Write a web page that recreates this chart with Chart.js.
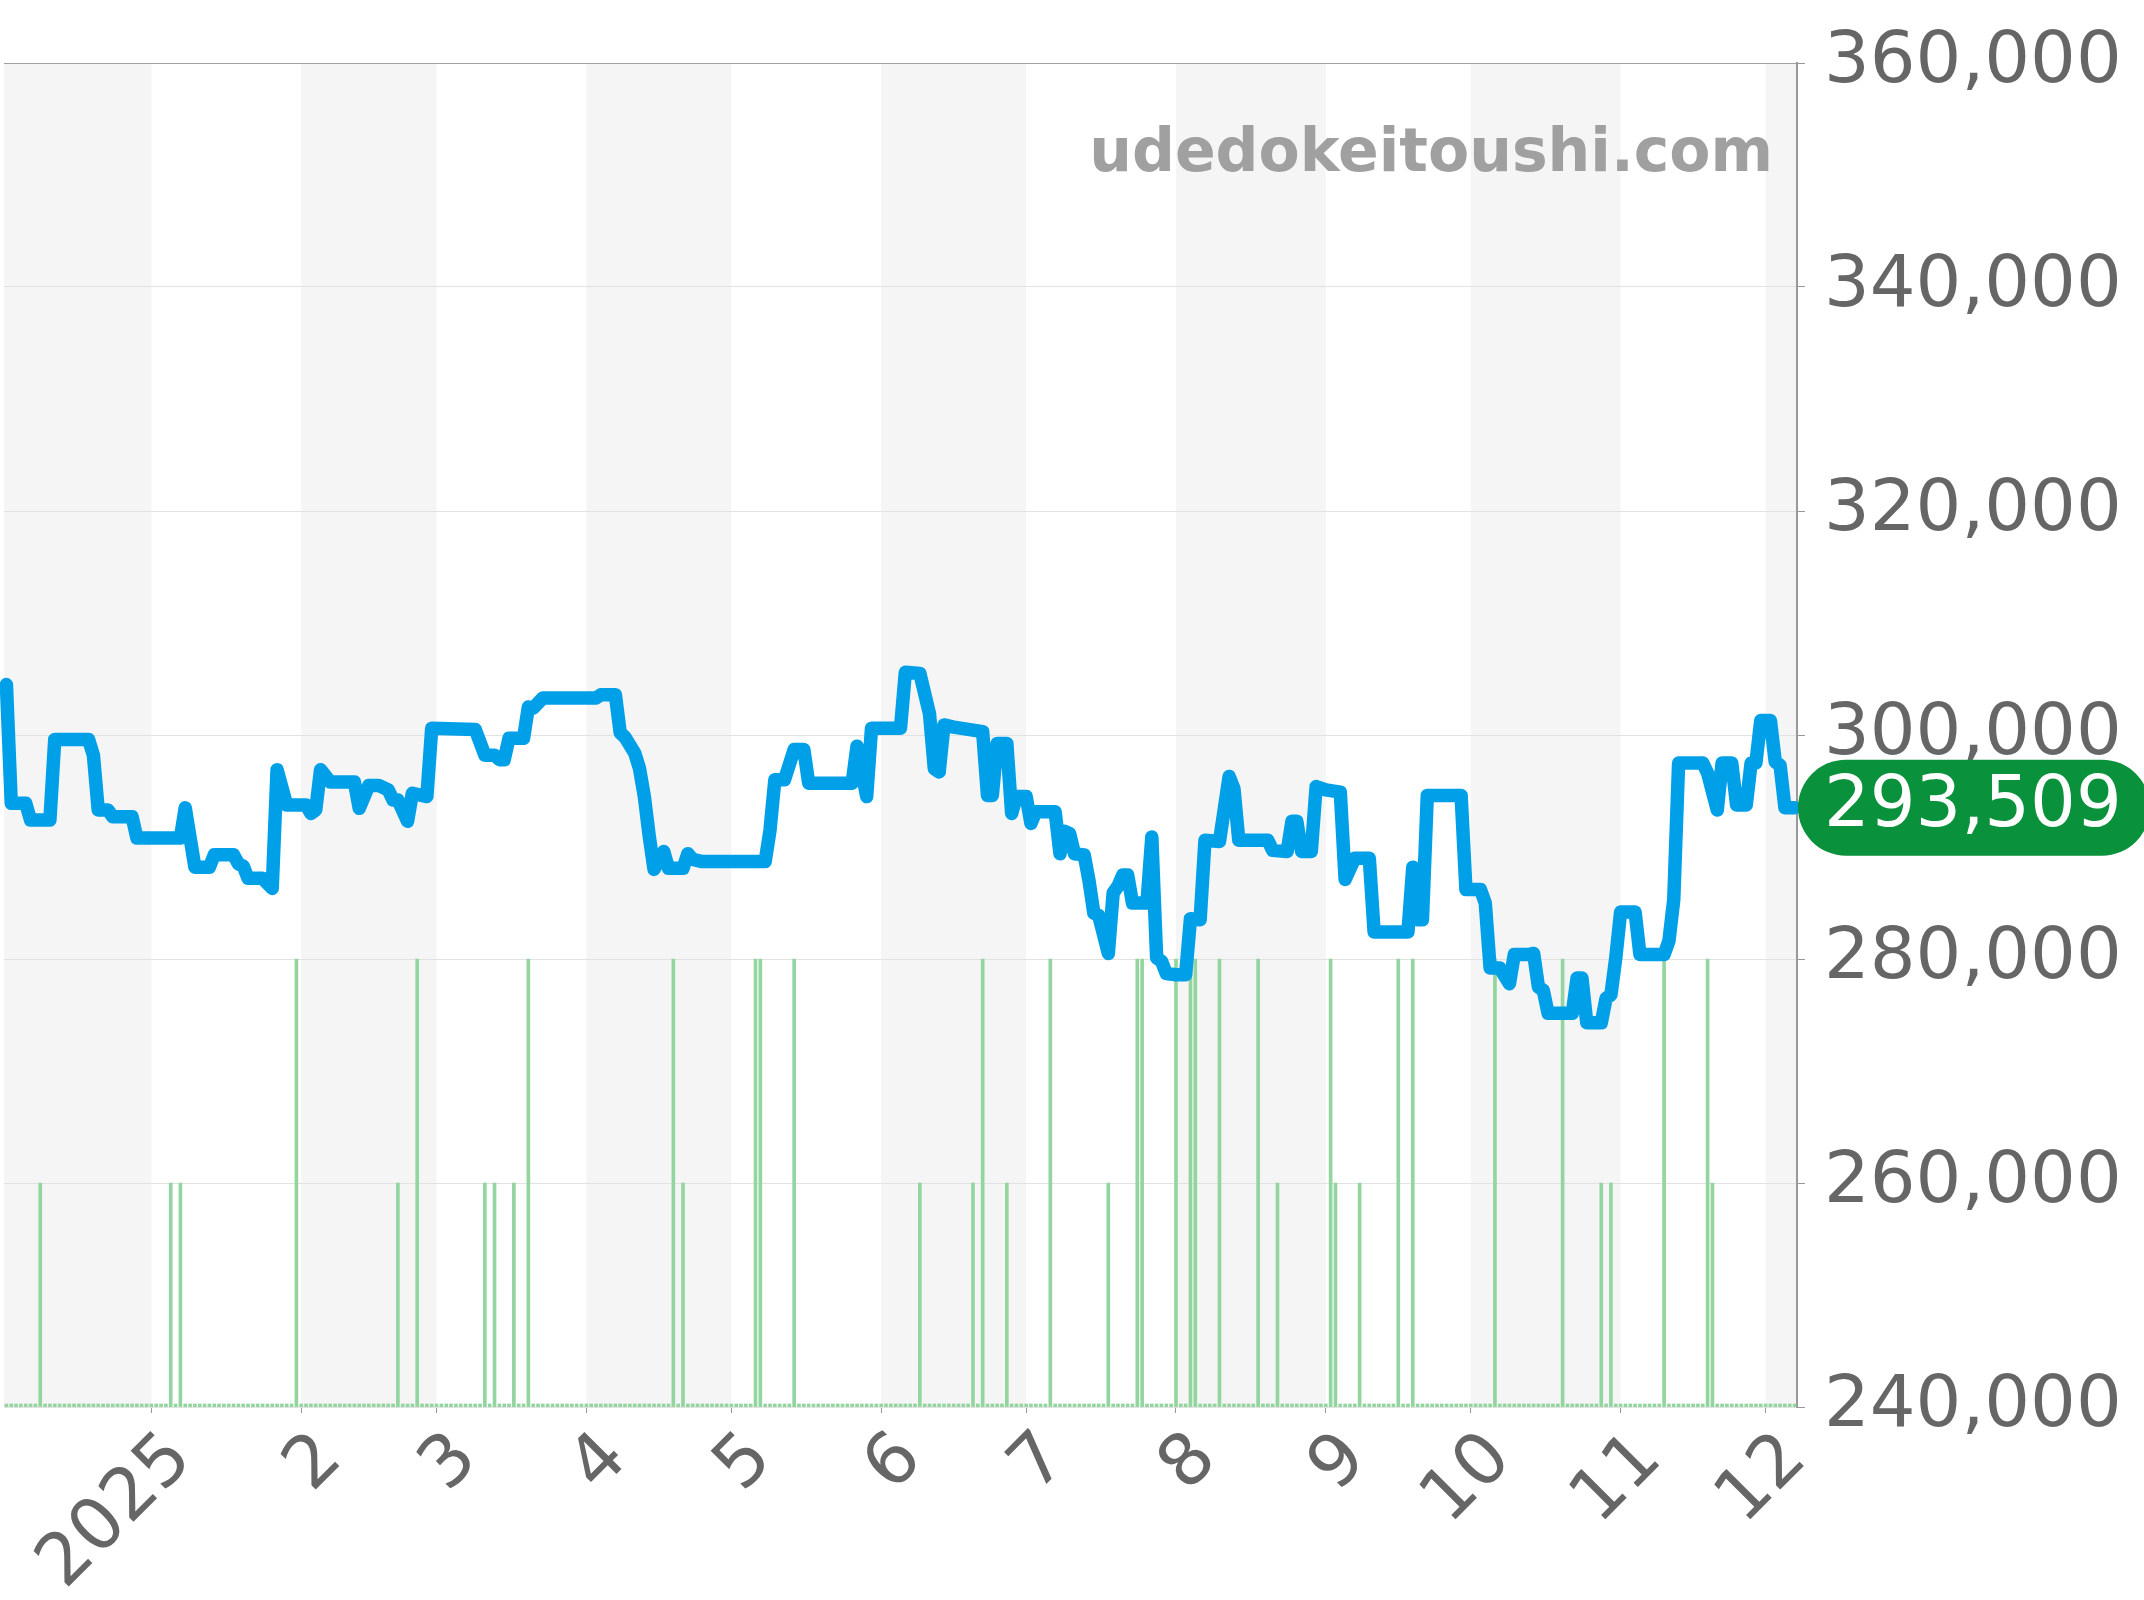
<!DOCTYPE html>
<html>
<head>
<meta charset="utf-8">
<script src="https://cdn.jsdelivr.net/npm/chart.js@4.4.1/dist/chart.umd.min.js"></script>
<style>
html,body{margin:0;padding:0;background:#fff;}
canvas{display:block;}
</style>
</head>
<body>
<canvas id="c" width="2144" height="1600"></canvas>
<script>
// ---------- DATA ----------
const rangeStart = "2024-12-02";
const rangeEnd = "2025-12-07";

const priceDates = [
"2024-12-02","2024-12-03","2024-12-06","2024-12-07","2024-12-11","2024-12-12","2024-12-19","2024-12-20","2024-12-21","2024-12-23","2024-12-24","2024-12-28","2024-12-29",
"2025-01-07","2025-01-08","2025-01-10","2025-01-13","2025-01-14","2025-01-18","2025-01-19","2025-01-20","2025-01-21","2025-01-24","2025-01-26","2025-01-27","2025-01-29",
"2025-02-02","2025-02-03","2025-02-04","2025-02-05","2025-02-07","2025-02-12","2025-02-13","2025-02-15","2025-02-17","2025-02-19","2025-02-20","2025-02-21","2025-02-23","2025-02-24","2025-02-27","2025-02-28",
"2025-03-09","2025-03-11","2025-03-13","2025-03-14","2025-03-15","2025-03-16","2025-03-19","2025-03-20","2025-03-21","2025-03-23",
"2025-04-03","2025-04-04","2025-04-07","2025-04-08","2025-04-09","2025-04-11","2025-04-12","2025-04-13","2025-04-14","2025-04-15","2025-04-17","2025-04-18","2025-04-21","2025-04-22","2025-04-23","2025-04-25",
"2025-05-08","2025-05-09","2025-05-10","2025-05-12","2025-05-14","2025-05-16","2025-05-17","2025-05-26","2025-05-27","2025-05-29","2025-05-30",
"2025-06-05","2025-06-06","2025-06-09","2025-06-11","2025-06-12","2025-06-13","2025-06-14","2025-06-16","2025-06-19","2025-06-22","2025-06-23","2025-06-24","2025-06-25","2025-06-27","2025-06-28","2025-06-29",
"2025-07-01","2025-07-02","2025-07-03","2025-07-07","2025-07-08","2025-07-09","2025-07-10","2025-07-11","2025-07-13","2025-07-14","2025-07-15","2025-07-16","2025-07-18","2025-07-19","2025-07-20","2025-07-21","2025-07-22","2025-07-23","2025-07-26","2025-07-27","2025-07-28","2025-07-29","2025-07-30",
"2025-08-01","2025-08-03","2025-08-04","2025-08-06","2025-08-07","2025-08-10","2025-08-12","2025-08-13","2025-08-14","2025-08-20","2025-08-21","2025-08-24","2025-08-25","2025-08-26","2025-08-27","2025-08-29","2025-08-30",
"2025-09-01","2025-09-04","2025-09-05","2025-09-07","2025-09-10","2025-09-11","2025-09-18","2025-09-19","2025-09-20","2025-09-21","2025-09-22","2025-09-29","2025-09-30",
"2025-10-03","2025-10-04","2025-10-05","2025-10-07","2025-10-09","2025-10-10","2025-10-13","2025-10-14","2025-10-15","2025-10-16","2025-10-17","2025-10-22","2025-10-23","2025-10-24","2025-10-25","2025-10-28","2025-10-29","2025-10-30","2025-10-31",
"2025-11-01","2025-11-04","2025-11-05","2025-11-10","2025-11-11","2025-11-12","2025-11-13","2025-11-18","2025-11-19","2025-11-21","2025-11-22","2025-11-24","2025-11-25","2025-11-27","2025-11-28","2025-11-29","2025-11-30",
"2025-12-02","2025-12-03","2025-12-04","2025-12-05","2025-12-07"
];

const priceValues = [
304500,293900,293900,292400,292400,299600,299600,298200,293300,293300,292700,292700,290800,
290800,293500,288200,288200,289300,289300,288500,288300,287200,287200,286300,296900,293750,
293750,293000,293300,296900,295800,295800,293450,295500,295500,295100,294200,294200,292300,294800,294500,300600,
300500,298200,298200,297800,297800,299700,299700,302500,302400,303300,
303300,303600,303600,300200,299800,298400,297000,294500,291000,288000,289600,288100,288100,289400,288900,288700,
288700,291500,296000,296000,298700,298700,295700,295700,299000,294500,300600,
300600,305600,305500,301900,297000,296700,300900,300700,300500,300300,294600,294600,299250,299250,293000,294500,
294500,292100,293150,293150,289400,291400,291200,289400,289300,287000,284100,283900,280500,285900,286500,287500,287500,285000,285000,290900,280100,279800,278700,
278600,278600,283600,283500,290600,290500,296300,295200,290600,290600,289700,289600,292300,292300,289600,289600,295400,
295100,294900,287100,289000,289000,282400,282400,288200,283500,283500,294600,294600,286200,
286200,285000,279200,279200,277800,280400,280400,280500,277500,277200,275150,275150,278300,278300,274300,274300,276500,276800,280100,
284200,284200,280400,280400,281600,285300,297500,297500,296600,293300,297500,297500,293750,293750,297500,297500,301300,
301300,297600,297300,293509,293509
];

const salesDates = [
"2024-12-09","2025-01-05","2025-01-07","2025-01-31","2025-02-21","2025-02-25","2025-03-11","2025-03-13","2025-03-17","2025-03-20",
"2025-04-19","2025-04-21","2025-05-06","2025-05-07","2025-05-14","2025-06-09","2025-06-20","2025-06-22","2025-06-27","2025-07-06",
"2025-07-18","2025-07-24","2025-07-25","2025-08-01","2025-08-04","2025-08-05","2025-08-10","2025-08-18","2025-08-22","2025-09-02",
"2025-09-03","2025-09-08","2025-09-16","2025-09-19","2025-10-06","2025-10-20","2025-10-28","2025-10-30","2025-11-10","2025-11-19","2025-11-20"
];
const salesCounts = [1,1,1,2,1,2,1,1,1,2, 2,1,2,2,2,1,1,2,1,2, 1,2,2,2,2,2,2,2,1,2, 1,1,2,2,2,2,1,1,2,2,1];

const tickDates = ["2025-01-01","2025-02-01","2025-03-01","2025-04-01","2025-05-01","2025-06-01","2025-07-01","2025-08-01","2025-09-01","2025-10-01","2025-11-01","2025-12-01"];
const tickLabels = ["2025","2","3","4","5","6","7","8","9","10","11","12"];
const bandMonthStarts = ["2024-12-01","2025-01-01","2025-02-01","2025-03-01","2025-04-01","2025-05-01","2025-06-01","2025-07-01","2025-08-01","2025-09-01","2025-10-01","2025-11-01","2025-12-01","2026-01-01"];

const yMin = 240000, yMax = 360000, yStep = 20000;
const watermarkText = "udedokeitoushi.com";

// ---------- HELPERS ----------
function dayOf(s){
  const [y,m,d] = s.split("-").map(Number);
  return Math.round((Date.UTC(y,m-1,d) - Date.UTC(2025,0,1)) / 86400000);
}
const startDay = dayOf(rangeStart), endDay = dayOf(rangeEnd);

const lineData = priceDates.map((s,i)=>({x: dayOf(s), y: priceValues[i]}));
const salesMap = {};
salesDates.forEach((s,i)=>{ salesMap[dayOf(s)] = salesCounts[i]; });
const barData = [];
for (let d = startDay; d <= endDay; d++) barData.push({x: d, y: salesMap[d] || 0});

const FONT = '"DejaVu Sans", sans-serif';

const bandsPlugin = {
  id: 'bands',
  beforeDraw(chart){
    const {ctx, chartArea:a, scales:{x}} = chart;
    ctx.save();
    ctx.beginPath(); ctx.rect(a.left, a.top, a.right-a.left, a.bottom-a.top); ctx.clip();
    for (let i = 0; i < bandMonthStarts.length-1; i++){
      if (i % 2 !== 0) continue;
      const x0 = x.getPixelForValue(dayOf(bandMonthStarts[i]));
      const x1 = x.getPixelForValue(dayOf(bandMonthStarts[i+1]));
      ctx.fillStyle = '#f5f5f5';
      ctx.fillRect(x0, a.top, x1-x0, a.bottom-a.top);
    }
    ctx.restore();
  },
  beforeDatasetsDraw(chart){
    const {ctx} = chart;
    ctx.save();
    ctx.font = 'bold 60px ' + FONT;
    ctx.fillStyle = '#a0a0a0';
    ctx.textAlign = 'right';
    ctx.textBaseline = 'alphabetic';
    ctx.fillText(watermarkText, 1773, 171);
    ctx.restore();
  },
  afterDraw(chart){
    const {ctx, scales:{y}} = chart;
    const last = priceValues[priceValues.length-1];
    const cy = y.getPixelForValue(last);
    const h = 96, r = 48, x0 = 1798, x1 = 2150;
    ctx.save();
    ctx.fillStyle = '#0a913b';
    ctx.beginPath();
    ctx.moveTo(x0 + r, cy - h/2);
    ctx.lineTo(x1 - r, cy - h/2);
    ctx.arc(x1 - r, cy, r, -Math.PI/2, Math.PI/2);
    ctx.lineTo(x0 + r, cy + h/2);
    ctx.arc(x0 + r, cy, r, Math.PI/2, Math.PI*1.5);
    ctx.closePath();
    ctx.fill();
    ctx.fillStyle = '#ffffff';
    ctx.font = '72px ' + FONT;
    ctx.textAlign = 'left';
    ctx.textBaseline = 'middle';
    ctx.fillText(last.toLocaleString('en-US'), 1824, cy);
    ctx.restore();
  }
};

new Chart(document.getElementById('c'), {
  data: {
    datasets: [
      {
        type: 'line',
        data: lineData,
        borderColor: '#00a0e9',
        borderWidth: 13.5,
        borderJoinStyle: 'round',
        borderCapStyle: 'round',
        pointRadius: 0,
        tension: 0,
        fill: false,
        clip: 6,
        xAxisID: 'x',
        yAxisID: 'y',
        order: 0
      },
      {
        type: 'bar',
        data: barData,
        backgroundColor: '#93d59f',
        barThickness: 3,
        minBarLength: 3,
        xAxisID: 'x',
        yAxisID: 'y2',
        order: 1
      }
    ]
  },
  options: {
    responsive: false,
    animation: false,
    devicePixelRatio: 1,
    layout: { padding: { left: 4, top: 63, right: 0, bottom: 0 } },
    plugins: { legend: { display: false }, tooltip: { enabled: false } },
    scales: {
      x: {
        type: 'linear',
        position: 'bottom',
        offset: false,
        min: startDay - 0.5,
        max: endDay + 0.5,
        afterBuildTicks(scale){ scale.ticks = tickDates.map(s => ({value: dayOf(s)})); },
        afterFit(scale){ scale.height = 193; },
        grid: { offset: false, drawOnChartArea: false, drawTicks: true, tickLength: 6, tickColor: '#999999' },
        border: { display: false },
        ticks: {
          autoSkip: false,
          minRotation: 45,
          maxRotation: 45,
          padding: 4,
          labelOffset: 30,
          color: '#666666',
          font: { family: FONT, size: 72 },
          callback: (v, i) => tickLabels[i]
        }
      },
      y: {
        type: 'linear',
        position: 'right',
        min: yMin,
        max: yMax,
        afterFit(scale){ scale.width = 347; },
        grid: {
          color: (c) => (c.tick && c.tick.value === yMax) ? '#a0a0a0' : '#e2e2e2',
          tickColor: '#999999',
          tickLength: 8,
          lineWidth: 1
        },
        border: { display: true, color: '#999999', width: 2 },
        ticks: {
          stepSize: yStep,
          padding: 19,
          color: '#666666',
          font: { family: FONT, size: 72 },
          callback: (v) => Number(v).toLocaleString('en-US')
        }
      },
      y2: {
        type: 'linear',
        display: false,
        min: 0,
        max: 6
      }
    }
  },
  plugins: [bandsPlugin]
});
</script>
</body>
</html>
